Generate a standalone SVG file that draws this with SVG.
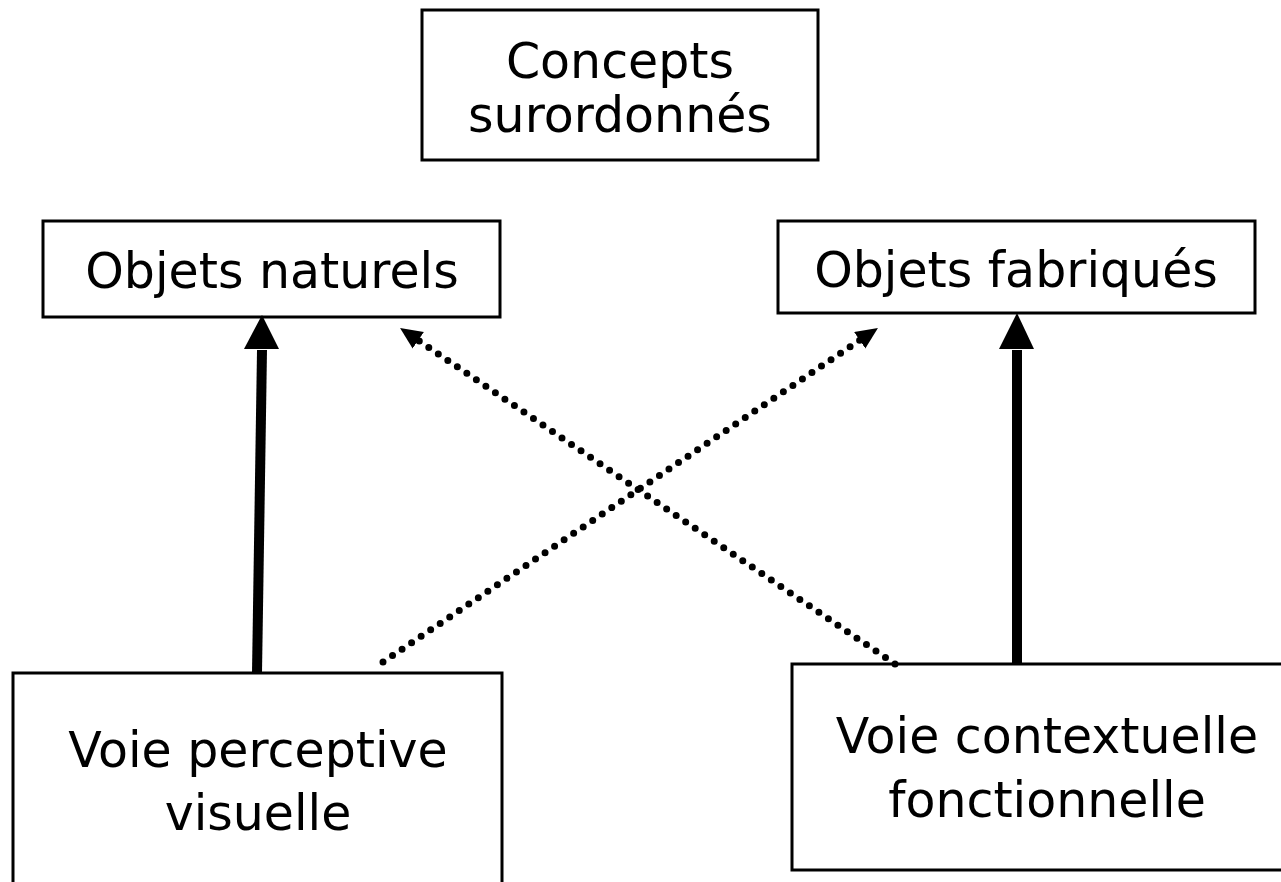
<svg xmlns="http://www.w3.org/2000/svg" width="1281" height="882" viewBox="0 0 1281 882">
<style>
.box{fill:#fff;stroke:#000;stroke-width:3}
.t{font-family:"DejaVu Sans","Liberation Sans",sans-serif;font-size:49px;fill:#000;text-anchor:middle}
.thick{stroke:#000;stroke-width:10;fill:none}
.dot{stroke:#000;stroke-width:7;stroke-linecap:round;stroke-dasharray:0 11.5;fill:none}
</style>
<defs>
<marker id="small" markerUnits="userSpaceOnUse" markerWidth="24" markerHeight="22" refX="20" refY="10" orient="auto">
<path d="M0,0 L22,10 L0,20 Z" fill="#000"/>
</marker>
</defs>
<rect width="1281" height="882" fill="#fff"/>
<g id="n-concepts">
<rect class="box" x="422" y="10" width="396" height="150"/>
<text class="t" x="620" y="78">Concepts</text>
<text class="t" x="620" y="132">surordonnés</text>
</g>
<g id="n-naturels">
<rect class="box" x="43" y="221" width="457" height="96"/>
<text class="t" x="272" y="288">Objets naturels</text>
</g>
<g id="n-fabriques">
<rect class="box" x="778" y="221" width="477" height="92"/>
<text class="t" x="1016" y="287">Objets fabriqués</text>
</g>
<g id="n-perceptive">
<rect class="box" x="13" y="673" width="489" height="220"/>
<text class="t" x="258" y="767">Voie perceptive</text>
<text class="t" x="258" y="830">visuelle</text>
</g>
<g id="n-contextuelle">
<rect class="box" x="792" y="664" width="500" height="206"/>
<text class="t" x="1047" y="753">Voie contextuelle</text>
<text class="t" x="1047" y="817">fonctionnelle</text>
</g>
<g id="connectors">
<line class="thick" x1="257" y1="673" x2="262" y2="350"/>
<path d="M262,315 L279,349 L244,349 Z" fill="#000"/>
<line class="thick" x1="1017" y1="664" x2="1017" y2="350"/>
<path d="M1017,313 L1034,349 L999,349 Z" fill="#000"/>
<line class="dot" x1="383" y1="662" x2="876.3" y2="329.1" marker-end="url(#small)"/>
<line class="dot" x1="895" y1="664" x2="401.7" y2="329.1" marker-end="url(#small)"/>
</g>
</svg>
